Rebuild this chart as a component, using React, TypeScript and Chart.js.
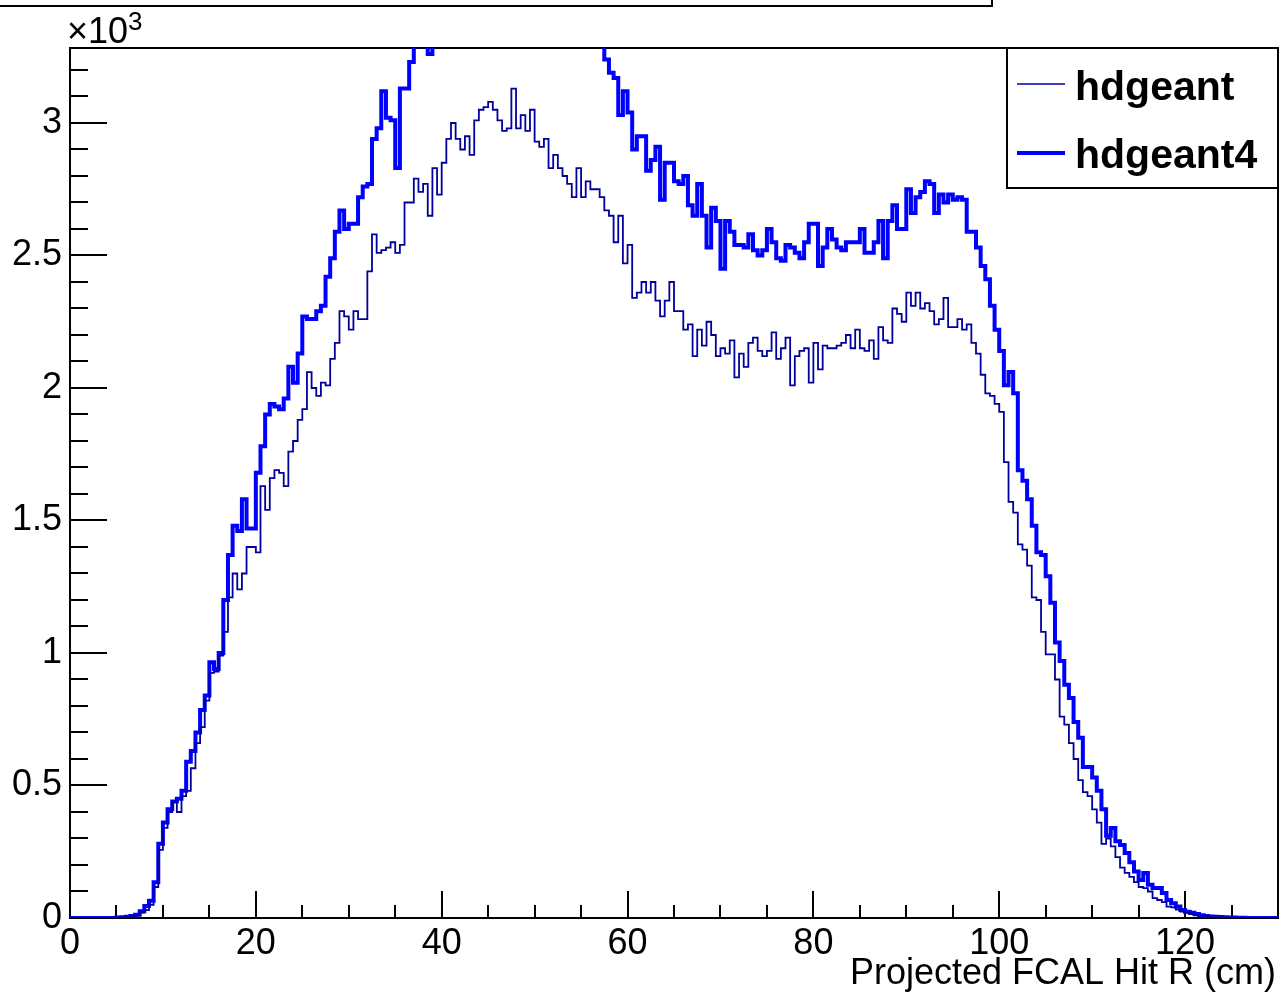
import React, { useEffect, useRef } from "react";
import { Chart, registerables } from "chart.js";

Chart.register(...registerables);

// ---------------- data ----------------
const X_MIN = 0;
const X_MAX = 130;
const BIN_WIDTH = 0.5;
const Y_MIN = 0;
const Y_MAX = 3.283; // in units of 10^3

const xTickLabels = [0, 20, 40, 60, 80, 100, 120];
const yTickLabels = [0, 0.5, 1, 1.5, 2, 2.5, 3];
const xAxisTitle = "Projected FCAL Hit R (cm)";
const yExponent = "3";
const seriesNames = ["hdgeant", "hdgeant4"];

// bin contents (x10^3), bins of 0.5 cm from 0 to 130 cm
const hdgeantCounts = [
  0, 0, 0, 0, 0, 0, 0, 0, 0, 0,
  0.001, 0.002, 0.003, 0.005, 0.01, 0.02, 0.03, 0.05, 0.117, 0.257,
  0.34, 0.4, 0.44, 0.4, 0.46, 0.48, 0.565, 0.66, 0.72, 0.82,
  0.925, 0.93, 0.99, 1.08, 1.21, 1.3, 1.24, 1.3, 1.4, 1.4,
  1.38, 1.63, 1.54, 1.66, 1.69, 1.68, 1.63, 1.76, 1.8, 1.88,
  1.92, 2.06, 2.0, 1.97, 2.02, 2.01, 2.11, 2.17, 2.29, 2.27,
  2.22, 2.29, 2.26, 2.26, 2.44, 2.58, 2.51, 2.52, 2.53, 2.55,
  2.51, 2.54, 2.7, 2.7, 2.79, 2.74, 2.77, 2.65, 2.83, 2.73,
  2.85, 2.94, 3.0, 2.94, 2.9, 2.95, 2.88, 3.01, 3.05, 3.06,
  3.08, 3.05, 3.01, 2.97, 2.98, 3.13, 2.98, 3.03, 2.97, 3.05,
  2.93, 2.91, 2.94, 2.83, 2.88, 2.83, 2.8, 2.77, 2.72, 2.83,
  2.72, 2.78, 2.75, 2.75, 2.72, 2.67, 2.65, 2.55, 2.65, 2.47,
  2.54, 2.34, 2.36, 2.4, 2.36, 2.4, 2.33, 2.27, 2.33, 2.4,
  2.29, 2.29, 2.22, 2.24, 2.12, 2.22, 2.16, 2.25, 2.2, 2.12,
  2.15, 2.13, 2.18, 2.04, 2.13, 2.08, 2.17, 2.19, 2.14, 2.12,
  2.14, 2.21, 2.11, 2.15, 2.19, 2.01, 2.12, 2.14, 2.15, 2.02,
  2.17, 2.07, 2.16, 2.15, 2.15, 2.16, 2.17, 2.2, 2.15, 2.22,
  2.15, 2.14, 2.18, 2.11, 2.23, 2.18, 2.17, 2.3, 2.28, 2.25,
  2.36, 2.31, 2.36, 2.3, 2.32, 2.29, 2.24, 2.26, 2.34, 2.23,
  2.23, 2.26, 2.22, 2.24, 2.17, 2.13, 2.05, 1.98, 1.97, 1.94,
  1.91, 1.72, 1.57, 1.53, 1.41, 1.39, 1.33, 1.21, 1.2, 1.08,
  0.995, 0.995, 0.9, 0.76, 0.73, 0.66, 0.6, 0.52, 0.475, 0.46,
  0.41, 0.36, 0.28, 0.3, 0.27, 0.23, 0.19, 0.17, 0.155, 0.135,
  0.117, 0.113, 0.1, 0.075, 0.068, 0.06, 0.043, 0.04, 0.032, 0.024,
  0.02, 0.015, 0.01, 0.008, 0.006, 0.004, 0.003, 0.002, 0.002, 0.001,
  0.001, 0, 0, 0, 0, 0, 0, 0, 0, 0,
];

const hdgeant4Counts = [
  0, 0, 0, 0, 0, 0, 0, 0, 0, 0,
  0.002, 0.003, 0.005, 0.008, 0.012, 0.025, 0.045, 0.065, 0.135, 0.28,
  0.36, 0.41, 0.44, 0.45, 0.48, 0.59, 0.63, 0.7, 0.785, 0.84,
  0.965, 0.94, 1.0, 1.2, 1.37, 1.48, 1.46, 1.58, 1.47, 1.47,
  1.68, 1.78, 1.9, 1.94, 1.93, 1.92, 1.96, 2.08, 2.02, 2.13,
  2.27, 2.26, 2.26, 2.29, 2.31, 2.42, 2.49, 2.59, 2.67, 2.6,
  2.62, 2.62, 2.72, 2.76, 2.77, 2.94, 2.98, 3.12, 3.02, 3.01,
  2.83, 3.13, 3.13, 3.23, 3.29, 3.36, 3.29, 3.26, 3.35, 3.38,
  3.42, 3.4, 3.47, 3.52, 3.49, 3.55, 3.51, 3.58, 3.6, 3.56,
  3.62, 3.63, 3.59, 3.66, 3.64, 3.68, 3.7, 3.62, 3.66, 3.61,
  3.58, 3.6, 3.54, 3.52, 3.55, 3.48, 3.46, 3.44, 3.4, 3.43,
  3.37, 3.39, 3.34, 3.36, 3.33, 3.24, 3.19, 3.17, 3.03, 3.12,
  3.04, 2.9, 2.95, 2.95, 2.82, 2.86, 2.91, 2.71, 2.85, 2.85,
  2.78, 2.77, 2.8, 2.69, 2.65, 2.77, 2.65, 2.53, 2.68, 2.63,
  2.45, 2.63, 2.59, 2.54, 2.54, 2.53, 2.58, 2.52, 2.5, 2.52,
  2.6, 2.55, 2.49, 2.48, 2.54, 2.53, 2.51, 2.49, 2.55, 2.62,
  2.62, 2.46, 2.53, 2.6, 2.56, 2.53, 2.52, 2.55, 2.55, 2.55,
  2.6, 2.51, 2.51, 2.55, 2.63, 2.49, 2.63, 2.69, 2.6, 2.6,
  2.75, 2.66, 2.72, 2.74, 2.78, 2.77, 2.66, 2.73, 2.7, 2.73,
  2.71, 2.72, 2.71, 2.59, 2.59, 2.53, 2.46, 2.41, 2.31, 2.22,
  2.14, 2.01, 2.06, 1.98, 1.69, 1.65, 1.58, 1.48, 1.38, 1.37,
  1.29, 1.19, 1.04, 0.97, 0.88, 0.83, 0.74, 0.68, 0.57, 0.57,
  0.53, 0.48, 0.41, 0.31, 0.34, 0.29, 0.275, 0.245, 0.21, 0.175,
  0.143, 0.17, 0.125, 0.113, 0.113, 0.094, 0.068, 0.056, 0.043, 0.03,
  0.024, 0.02, 0.015, 0.01, 0.008, 0.006, 0.005, 0.004, 0.003, 0.002,
  0.002, 0.001, 0.001, 0, 0, 0, 0, 0, 0, 0,
];

// ---------------- styling ----------------
const FONT = '"Liberation Sans", Arial, Helvetica, sans-serif';
const THIN_COLOR = "#00009c";
const THICK_COLOR = "#0000ff";

function toSteps(counts: number[]) {
  const pts = counts.map((v, i) => ({ x: X_MIN + i * BIN_WIDTH, y: v }));
  pts.push({ x: X_MIN + counts.length * BIN_WIDTH, y: counts[counts.length - 1] });
  return pts;
}

const rootStylePlugin = {
  id: "rootStyle",
  beforeDatasetsDraw(chart: any) {
    const { ctx, chartArea: a, scales } = chart;
    const xs = scales.x;
    const ys = scales.y;
    ctx.save();
    ctx.strokeStyle = "#000";
    ctx.lineWidth = 2;
    ctx.strokeRect(a.left, a.top, a.right - a.left, a.bottom - a.top);
    ctx.beginPath();
    // x ticks every 5, major every 20
    for (let v = X_MIN; v <= X_MAX + 1e-9; v += 5) {
      const px = Math.round(xs.getPixelForValue(v));
      const major = xTickLabels.includes(v);
      ctx.moveTo(px, a.bottom);
      ctx.lineTo(px, a.bottom - (major ? 27 : 13));
    }
    // y ticks every 0.1, major every 0.5
    for (let k = 0; k * 0.1 <= Y_MAX + 1e-9; k++) {
      const v = k * 0.1;
      const py = Math.round(ys.getPixelForValue(v));
      const major = k % 5 === 0;
      ctx.moveTo(a.left, py);
      ctx.lineTo(a.left + (major ? 37 : 18), py);
    }
    ctx.stroke();
    ctx.restore();
  },
  afterDraw(chart: any) {
    const { ctx, chartArea: a } = chart;
    ctx.save();
    ctx.fillStyle = "#000";
    ctx.strokeStyle = "#000";
    // remnant of the title box at the top
    ctx.lineWidth = 2;
    ctx.beginPath();
    ctx.moveTo(-5, 6);
    ctx.lineTo(992, 6);
    ctx.lineTo(992, -5);
    ctx.stroke();

    // x10^3
    ctx.textBaseline = "alphabetic";
    ctx.textAlign = "left";
    ctx.font = `36px ${FONT}`;
    ctx.fillText("\u00d710", 67, 43);
    ctx.font = `26px ${FONT}`;
    ctx.fillText(yExponent, 128, 30);

    // x-axis title
    ctx.font = `36px ${FONT}`;
    ctx.textAlign = "right";
    ctx.fillText(xAxisTitle, 1276, 984);

    // legend
    const lx0 = 1007, ly0 = 48, lx1 = a.right, ly1 = 188;
    ctx.fillStyle = "#fff";
    ctx.fillRect(lx0, ly0, lx1 - lx0, ly1 - ly0);
    ctx.lineWidth = 2;
    ctx.strokeRect(lx0, ly0, lx1 - lx0, ly1 - ly0);
    ctx.strokeStyle = THIN_COLOR;
    ctx.lineWidth = 1.6;
    ctx.beginPath();
    ctx.moveTo(1017, 84);
    ctx.lineTo(1065, 84);
    ctx.stroke();
    ctx.strokeStyle = THICK_COLOR;
    ctx.lineWidth = 4;
    ctx.beginPath();
    ctx.moveTo(1017, 153);
    ctx.lineTo(1065, 153);
    ctx.stroke();
    ctx.fillStyle = "#000";
    ctx.textAlign = "left";
    ctx.font = `bold 41px ${FONT}`;
    ctx.fillText(seriesNames[0], 1075, 100);
    ctx.fillText(seriesNames[1], 1075, 168);
    ctx.restore();
  },
};

export default function App() {
  const canvasRef = useRef<HTMLCanvasElement | null>(null);

  useEffect(() => {
    document.body.style.margin = "0";
    const canvas = canvasRef.current;
    if (!canvas) return;
    const chart = new Chart(canvas, {
      type: "line",
      data: {
        datasets: [
          {
            label: seriesNames[0],
            data: toSteps(hdgeantCounts),
            borderColor: THIN_COLOR,
            borderWidth: 1.8,
            stepped: "before",
            pointRadius: 0,
            fill: false,
            borderJoinStyle: "miter",
          },
          {
            label: seriesNames[1],
            data: toSteps(hdgeant4Counts),
            borderColor: THICK_COLOR,
            borderWidth: 4,
            stepped: "before",
            pointRadius: 0,
            fill: false,
            borderJoinStyle: "miter",
          },
        ],
      },
      options: {
        responsive: false,
        animation: false,
        devicePixelRatio: 1,
        layout: { padding: { top: 48, right: 3, left: 0, bottom: 0 } },
        plugins: {
          legend: { display: false },
          title: { display: false },
          tooltip: { enabled: false },
        },
        events: [],
        scales: {
          x: {
            type: "linear",
            min: X_MIN,
            max: X_MAX,
            grid: { display: false, drawTicks: false },
            border: { display: false },
            afterFit: (s: any) => {
              s.height = 80;
            },
            afterBuildTicks: (s: any) => {
              s.ticks = xTickLabels.map((v) => ({ value: v }));
            },
            ticks: {
              autoSkip: false,
              maxRotation: 0,
              padding: 4,
              color: "#000",
              font: { family: FONT, size: 36 },
              callback: (v: any) => String(v),
            },
          },
          y: {
            type: "linear",
            min: Y_MIN,
            max: Y_MAX,
            grid: { display: false, drawTicks: false },
            border: { display: false },
            afterFit: (s: any) => {
              s.width = 70;
            },
            afterBuildTicks: (s: any) => {
              s.ticks = yTickLabels.map((v) => ({ value: v }));
            },
            ticks: {
              autoSkip: false,
              padding: 8,
              color: "#000",
              font: { family: FONT, size: 36 },
              callback: (v: any) => String(v),
            },
          },
        },
      },
      plugins: [rootStylePlugin],
    } as any);
    return () => chart.destroy();
  }, []);

  return (
    <div style={{ width: 1281, height: 998, background: "#fff" }}>
      <canvas ref={canvasRef} width={1281} height={998} style={{ display: "block" }} />
    </div>
  );
}
